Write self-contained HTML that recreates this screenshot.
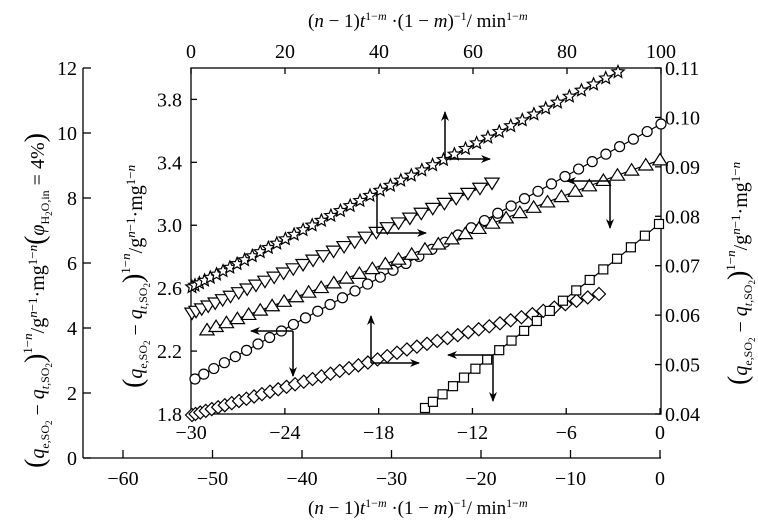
<!DOCTYPE html>
<html><head><meta charset="utf-8">
<style>
html,body{margin:0;padding:0;background:#fff;}
svg{display:block;font-family:"Liberation Serif","Noto Serif CJK SC","DejaVu Serif",serif;}
text,tspan{font-family:"Liberation Serif","Noto Serif CJK SC","DejaVu Serif",serif;fill:#000;}
</style></head>
<body>
<svg id="s" width="758" height="524" viewBox="0 0 758 524" xmlns="http://www.w3.org/2000/svg">
<defs>
<marker id="ah" markerWidth="10" markerHeight="8" refX="9" refY="4" orient="auto" markerUnits="userSpaceOnUse">
<path d="M0,0 L10,4 L0,8 L3,4 Z" fill="#000"/>
</marker>
</defs>
<g id="axes" stroke="#000" stroke-width="1.3" fill="none">
<rect x="191" y="68" width="470" height="346"/>
<line x1="83" y1="68" x2="83" y2="458"/>
<line x1="83" y1="458" x2="661" y2="458"/>
</g>
<g id="ticks" stroke="#000" stroke-width="1.3"></g>
<g id="lines" fill="none" stroke="#000" stroke-width="1.2"></g>
<g id="marks" fill="#fff" stroke="#000" stroke-width="1.2"></g>
<g id="arrows" stroke="#000" stroke-width="1.5" fill="none">
<line x1="445" y1="159" x2="445" y2="112" marker-end="url(#ah)"/>
<line x1="445" y1="159" x2="490" y2="159" marker-end="url(#ah)"/>
<line x1="377" y1="192" x2="377" y2="233"/>
<line x1="377" y1="233" x2="426" y2="233" marker-end="url(#ah)"/>
<line x1="293" y1="331" x2="251" y2="331" marker-end="url(#ah)"/>
<line x1="293" y1="331" x2="293" y2="376" marker-end="url(#ah)"/>
<line x1="371" y1="363" x2="371" y2="316" marker-end="url(#ah)"/>
<line x1="371" y1="363" x2="419" y2="363" marker-end="url(#ah)"/>
<line x1="610" y1="181" x2="567" y2="181" marker-end="url(#ah)"/>
<line x1="610" y1="181" x2="610" y2="228" marker-end="url(#ah)"/>
<line x1="493" y1="355" x2="448" y2="355" marker-end="url(#ah)"/>
<line x1="493" y1="355" x2="493" y2="401" marker-end="url(#ah)"/>
</g>
<g id="labels" font-size="20"></g>

<text x="308" y="27" font-size="19">(<tspan font-style="italic">n</tspan> − 1)<tspan font-style="italic">t</tspan><tspan font-size="12" dy="-7">1−<tspan font-style="italic">m</tspan></tspan><tspan dy="7"> ·(1 − </tspan><tspan font-style="italic">m</tspan>)<tspan font-size="12" dy="-7">−1</tspan><tspan dy="7">/ min</tspan><tspan font-size="12" dy="-7">1−<tspan font-style="italic">m</tspan></tspan></text>
<text x="308" y="514" font-size="19">(<tspan font-style="italic">n</tspan> − 1)<tspan font-style="italic">t</tspan><tspan font-size="12" dy="-7">1−<tspan font-style="italic">m</tspan></tspan><tspan dy="7"> ·(1 − </tspan><tspan font-style="italic">m</tspan>)<tspan font-size="12" dy="-7">−1</tspan><tspan dy="7">/ min</tspan><tspan font-size="12" dy="-7">1−<tspan font-style="italic">m</tspan></tspan></text>

<text transform="translate(44,468) rotate(-90)" font-size="20"><tspan font-size="28">(</tspan><tspan font-style="italic">q</tspan><tspan font-size="12" dy="5">e,SO</tspan><tspan font-size="9" dy="3">2</tspan><tspan dy="-8"> − </tspan><tspan font-style="italic">q</tspan><tspan font-size="12" dy="5"><tspan font-style="italic">t</tspan>,SO</tspan><tspan font-size="9" dy="3">2</tspan><tspan dy="-8" font-size="28">)</tspan><tspan font-size="13" dy="-12">1−<tspan font-style="italic">n</tspan></tspan><tspan dy="12">/g</tspan><tspan font-size="13" dy="-7"><tspan font-style="italic">n</tspan>−1</tspan><tspan dy="7">·mg</tspan><tspan font-size="13" dy="-7">1−<tspan font-style="italic">n</tspan></tspan><tspan dy="7" font-size="28">(</tspan><tspan font-style="italic">φ</tspan><tspan font-size="12" dy="5">H</tspan><tspan font-size="9" dy="3">2</tspan><tspan font-size="12" dy="-3">O,in</tspan><tspan dy="-5"> = 4%</tspan><tspan font-size="28">)</tspan></text>

<text transform="translate(142,388) rotate(-90)" font-size="20"><tspan font-size="28">(</tspan><tspan font-style="italic">q</tspan><tspan font-size="12" dy="5">e,SO</tspan><tspan font-size="9" dy="3">2</tspan><tspan dy="-8"> − </tspan><tspan font-style="italic">q</tspan><tspan font-size="12" dy="5"><tspan font-style="italic">t</tspan>,SO</tspan><tspan font-size="9" dy="3">2</tspan><tspan dy="-8" font-size="28">)</tspan><tspan font-size="13" dy="-12">1−<tspan font-style="italic">n</tspan></tspan><tspan dy="12">/g</tspan><tspan font-size="13" dy="-7"><tspan font-style="italic">n</tspan>−1</tspan><tspan dy="7">·mg</tspan><tspan font-size="13" dy="-7">1−<tspan font-style="italic">n</tspan></tspan></text>

<text transform="translate(747,385) rotate(-90)" font-size="20"><tspan font-size="28">(</tspan><tspan font-style="italic">q</tspan><tspan font-size="12" dy="5">e,SO</tspan><tspan font-size="9" dy="3">2</tspan><tspan dy="-8"> − </tspan><tspan font-style="italic">q</tspan><tspan font-size="12" dy="5"><tspan font-style="italic">t</tspan>,SO</tspan><tspan font-size="9" dy="3">2</tspan><tspan dy="-8" font-size="28">)</tspan><tspan font-size="13" dy="-12">1−<tspan font-style="italic">n</tspan></tspan><tspan dy="12">/g</tspan><tspan font-size="13" dy="-7"><tspan font-style="italic">n</tspan>−1</tspan><tspan dy="7">·mg</tspan><tspan font-size="13" dy="-7">1−<tspan font-style="italic">n</tspan></tspan></text>
</svg>
<script>
(function(){
var NS="http://www.w3.org/2000/svg";
function el(p,t,a,txt){var e=document.createElementNS(NS,t);for(var k in a)e.setAttribute(k,a[k]);if(txt!==undefined)e.textContent=txt;document.getElementById(p).appendChild(e);return e;}
function tick(x1,y1,x2,y2){el("ticks","line",{x1:x1,y1:y1,x2:x2,y2:y2});}
function lab(x,y,t,anc){el("labels","text",{x:x,y:y,"text-anchor":anc||"middle"},t);}
for(var v=0;v<=12;v+=2){var y=458-v*32.5;tick(83,y,91,y);lab(77,y+7,String(v),"end");}
for(var v=-60;v<=0;v+=10){var x=660+v*8.95;tick(x,458,x,450);lab(x,485,v<0?"−"+(-v):"0");}
for(var v=-30;v<=0;v+=6){var x=660+v*15.63;tick(x,414,x,408);lab(x,439,v<0?"−"+(-v):"0");}
for(var v=0;v<=100;v+=20){var x=191+v*4.7;tick(x,68,x,74);lab(x,58,String(v));}
for(var i=0;i<=5;i++){var v=1.8+0.4*i;var y=414-(v-1.8)*157.3;tick(191,y,197,y);lab(182,y+7,v.toFixed(1),"end");}
for(var i=0;i<=7;i++){var v=0.04+0.01*i;var y=414-i*49.43;tick(661,y,655,y);lab(665,y+7,v.toFixed(2),"start");}

function interp(pts,x){for(var i=0;i<pts.length-1;i++){if(x<=pts[i+1][0]||i==pts.length-2){var a=pts[i],b=pts[i+1];return a[1]+(b[1]-a[1])*(x-a[0])/(b[0]-a[0]);}}}
function series(pts,n,p,shape,sz){
 var x0=pts[0][0],x1=pts[pts.length-1][0],P=[];
 for(var i=0;i<n;i++){var x=x0+(x1-x0)*Math.pow(i/(n-1),p);P.push([x,interp(pts,x)]);}
 el("lines","polyline",{points:P.map(function(q){return q[0].toFixed(1)+","+q[1].toFixed(1);}).join(" ")});
 P.forEach(function(q){var x=q[0],y=q[1],s=sz;
  if(shape=="o")el("marks","circle",{cx:x,cy:y,r:s});
  else if(shape=="s")el("marks","rect",{x:x-s,y:y-s,width:2*s,height:2*s});
  else if(shape=="d")el("marks","polygon",{points:[x,y-s,x+s,y,x,y+s,x-s,y].join(",")});
  else if(shape=="u")el("marks","polygon",{points:[x,y-s,x+s*1.1,y+s*0.75,x-s*1.1,y+s*0.75].join(",")});
  else if(shape=="v")el("marks","polygon",{points:[x,y+s,x+s*1.1,y-s*0.75,x-s*1.1,y-s*0.75].join(",")});
  else if(shape=="*"){var a=[];for(var k=0;k<10;k++){var r=k%2?s*0.45:s;var ang=-Math.PI/2+k*Math.PI/5;a.push((x+r*Math.cos(ang)).toFixed(1)+","+(y+r*Math.sin(ang)).toFixed(1));}el("marks","polygon",{points:a.join(" ")});}
 });
}
series([[195,379],[285,329],[388,273],[405,264],[661,124]],38,1.1,"o",5);
series([[207,330],[377,267],[405,257],[610,178],[660,160]],36,1.1,"u",6.5);
series([[192,313],[377,232],[492,183]],32,1.25,"v",6.5);
series([[192,415],[373,361],[405,350],[533,314],[599,294]],46,1.25,"d",6.5);
series([[425,408],[493,355],[618,258],[659,224]],20,1.15,"s",4.5);
series([[192,287],[377,192],[445,159],[618,72]],46,1.3,"*",6.5);
})();
</script>
</body></html>
